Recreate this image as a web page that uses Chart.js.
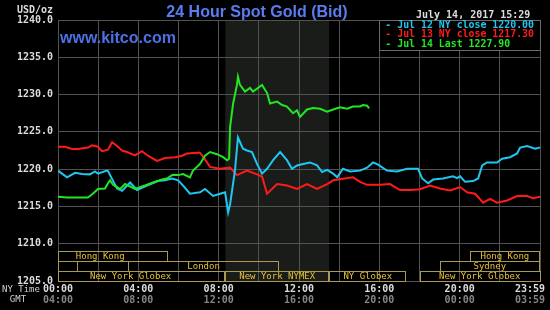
<!DOCTYPE html>
<html lang="en">
<head>
    <meta charset="UTF-8">
    <title>24 Hour Spot Gold (Bid)</title>
    <script src="https://cdn.jsdelivr.net/npm/chart.js"></script>
    <style>
        body { margin: 0; background: #000; }
        canvas { display: block; }
    </style>
</head>
<body>
    <canvas id="goldChart" width="550" height="310"></canvas>
    <script>
        // hours are NY time (0 = 00:00, 24 = 23:59)
        const jul12Hours = [0, 0.45, 0.85, 1.2, 1.59, 1.84, 1.99, 2.44, 2.49, 2.69, 2.94, 3.19, 3.59, 3.93, 4.43, 4.98, 5.33, 5.68, 5.98, 6.23, 6.57, 7.07, 7.32, 7.72, 8.07, 8.32, 8.47, 8.57, 8.81, 8.96, 9.21, 9.41, 9.66, 9.91, 10.16, 10.41, 10.71, 11.06, 11.4, 11.65, 11.9, 12.2, 12.55, 12.9, 13.15, 13.4, 13.7, 13.9, 14.19, 14.54, 15.04, 15.39, 15.69, 15.94, 16.38, 16.88, 17.38, 17.93, 18.13, 18.43, 18.68, 19.17, 19.67, 19.87, 20.02, 20.27, 20.67, 20.92, 21.12, 21.36, 21.86, 22.11, 22.51, 22.86, 23.01, 23.36, 23.76, 24];
        const jul12Prices = [1219.8, 1218.9, 1219.5, 1219.35, 1219.3, 1219.7, 1219.4, 1219.8, 1219.75, 1218.7, 1217.4, 1217.1, 1218.2, 1217.2, 1217.8, 1218.4, 1218.5, 1218.75, 1218.5, 1217.8, 1216.7, 1216.9, 1217.35, 1216.4, 1216.7, 1216.9, 1214.2, 1215.3, 1219.8, 1224.25, 1222.75, 1222.5, 1222.3, 1220.7, 1219.4, 1220.05, 1221.2, 1222.3, 1221.2, 1220.05, 1220.5, 1220.7, 1220.9, 1220.5, 1219.6, 1219.9, 1219.4, 1218.9, 1220.05, 1219.7, 1219.8, 1220.2, 1220.9, 1220.6, 1219.8, 1219.7, 1220.05, 1220.05, 1218.75, 1218.1, 1218.6, 1218.75, 1219.05, 1218.8, 1219.05, 1218.3, 1218.4, 1218.75, 1220.5, 1220.9, 1220.9, 1221.4, 1221.6, 1222.1, 1222.9, 1223.1, 1222.75, 1222.9];

        const jul13Hours = [0, 0.35, 0.7, 1.0, 1.49, 1.69, 1.99, 2.19, 2.49, 2.69, 2.94, 3.19, 3.44, 3.83, 4.18, 4.48, 4.93, 5.33, 5.83, 6.18, 6.42, 6.92, 7.07, 7.32, 7.57, 8.07, 8.57, 8.91, 9.41, 9.91, 10.16, 10.41, 10.91, 11.4, 11.9, 12.4, 12.9, 13.4, 13.7, 14.19, 14.69, 15.04, 15.39, 16.04, 16.53, 17.03, 17.53, 18.03, 18.53, 19.02, 19.52, 20.02, 20.37, 20.77, 21.17, 21.51, 21.86, 22.36, 22.86, 23.36, 23.66, 24];
        const jul13Prices = [1223.0, 1223.0, 1222.7, 1222.7, 1222.9, 1223.2, 1223.0, 1222.4, 1222.6, 1223.6, 1223.1, 1222.5, 1222.3, 1221.85, 1222.4, 1221.8, 1221.1, 1221.5, 1221.6, 1221.8, 1222.1, 1222.2, 1222.2, 1221.3, 1220.3, 1220.05, 1220.2, 1219.2, 1219.8, 1219.3, 1219.0, 1216.7, 1218.0, 1217.8, 1217.35, 1218.0, 1217.35, 1218.0, 1218.5, 1218.7, 1218.9, 1218.3, 1217.9, 1217.9, 1218.0, 1217.2, 1217.2, 1217.3, 1217.8, 1217.4, 1217.15, 1217.6, 1216.9, 1216.7, 1215.5, 1216.0, 1215.5, 1215.8, 1216.4, 1216.4, 1216.1, 1216.3];

        const jul14Hours = [0, 0.45, 1.49, 1.69, 1.99, 2.34, 2.49, 2.59, 2.74, 3.09, 3.34, 3.83, 4.33, 4.73, 5.18, 5.43, 5.68, 5.98, 6.23, 6.57, 6.72, 7.07, 7.32, 7.57, 7.92, 8.22, 8.42, 8.52, 8.57, 8.72, 8.91, 8.96, 9.06, 9.31, 9.56, 9.71, 10.16, 10.41, 10.56, 10.91, 11.16, 11.4, 11.7, 11.9, 12.05, 12.4, 12.7, 13.05, 13.4, 13.7, 14.04, 14.39, 14.69, 15.04, 15.19, 15.39, 15.49];
        const jul14Prices = [1216.3, 1216.2, 1216.2, 1216.6, 1217.35, 1217.4, 1218.1, 1218.5, 1217.9, 1217.35, 1218.0, 1217.35, 1217.8, 1218.2, 1218.6, 1218.75, 1219.2, 1219.2, 1219.35, 1218.9, 1219.8, 1220.7, 1221.8, 1222.3, 1222.0, 1221.6, 1221.2, 1221.4, 1225.7, 1228.8, 1231.3, 1232.4, 1231.3, 1230.4, 1230.9, 1230.4, 1231.3, 1230.2, 1228.8, 1229.05, 1228.6, 1228.4, 1227.5, 1227.9, 1227.0, 1228.0, 1228.2, 1228.1, 1227.7, 1228.0, 1228.3, 1228.1, 1228.4, 1228.4, 1228.6, 1228.5, 1228.15];

        const seriesLabels = ['Jul 12 NY close 1220.00', 'Jul 13 NY close 1217.30', 'Jul 14 Last 1227.90'];
        const seriesColors = ['#1ec6f0', '#ff1a1a', '#22e622'];

        const tickHours = [0, 4, 8, 12, 16, 20, 24];
        const nyTimeLabels = ['00:00', '04:00', '08:00', '12:00', '16:00', '20:00', '23:59'];
        const gmtLabels = ['04:00', '08:00', '12:00', '16:00', '20:00', '00:00', '03:59'];

        // trading sessions, row 0 is the bottom row
        const sessionNames = ['Hong Kong', '', 'London', 'New York Globex', 'New York NYMEX', 'NY Globex', 'New York Globex', 'Sydney', 'Hong Kong'];
        const sessionStart = [-1.3, -1, 3.5, -1.1, 8.33, 13.5, 18, 19, 20.5];
        const sessionEnd = [5.5, 1, 11, 8.33, 13.5, 17.35, 24, 24, 24];
        const sessionRow = [2, 1, 1, 0, 0, 0, 0, 1, 2];

        const nymexStart = 8.33;
        const nymexEnd = 13.5;

        const MONO = 'DejaVu Sans Mono';

        function toPoints(hours, prices) {
            return hours.map((h, i) => ({ x: h, y: prices[i] }));
        }

        const goldPlugin = {
            id: 'goldPlugin',
            beforeDraw(chart) {
                const { ctx, chartArea: a, scales: { x } } = chart;
                ctx.save();
                ctx.fillStyle = '#000';
                ctx.fillRect(0, 0, chart.width, chart.height);
                const x0 = x.getPixelForValue(nymexStart);
                const x1 = x.getPixelForValue(nymexEnd);
                ctx.fillStyle = '#1a1c1a';
                ctx.fillRect(x0, a.top, x1 - x0, a.bottom - a.top);
                ctx.restore();
            },
            afterDatasetsDraw(chart) {
                const { ctx, chartArea: a, scales: { x } } = chart;
                ctx.save();

                // session boxes
                ctx.lineWidth = 1;
                ctx.font = '9px "' + MONO + '"';
                ctx.textAlign = 'center';
                ctx.textBaseline = 'middle';
                for (let i = 0; i < sessionNames.length; i++) {
                    const ps = x.getPixelForValue(sessionStart[i]);
                    const pe = x.getPixelForValue(sessionEnd[i]);
                    const xs = Math.max(ps, a.left);
                    const xe = Math.min(pe, a.right);
                    const yb = Math.round(a.bottom) - sessionRow[i] * 10;
                    ctx.strokeStyle = '#a89a52';
                    ctx.strokeRect(Math.round(xs) + 0.5, yb - 10 + 0.5, Math.round(xe - xs) - 1, 10);
                    ctx.fillStyle = '#e6c238';
                    ctx.fillText(sessionNames[i], (ps + Math.min(pe, a.right)) / 2, yb - 4.5);
                }

                // legend box
                const lx = x.getPixelForValue(16);
                ctx.fillStyle = '#000';
                ctx.fillRect(lx, a.top, a.right - lx, 30);
                ctx.strokeStyle = '#6a6a6a';
                ctx.strokeRect(Math.round(lx) + 0.5, Math.round(a.top) + 0.5, Math.round(a.right - lx), 30);
                ctx.font = 'bold 9.9px "' + MONO + '"';
                ctx.textAlign = 'left';
                seriesLabels.forEach((label, i) => {
                    ctx.fillStyle = seriesColors[i];
                    ctx.fillText('- ' + label, lx + 6, a.top + 5.5 + i * 9.3);
                });
                ctx.restore();
            },
            afterDraw(chart) {
                const { ctx, chartArea: a, scales: { x } } = chart;
                ctx.save();
                ctx.textBaseline = 'middle';

                ctx.font = 'bold 10px "' + MONO + '"';
                ctx.fillStyle = '#dcdcdc';
                ctx.textAlign = 'right';
                ctx.fillText('USD/oz', 53, 10);
                ctx.textAlign = 'left';
                ctx.fillText('July 14, 2017 15:29', 416, 15);

                tickHours.forEach((h, i) => {
                    const last = i === tickHours.length - 1;
                    const px = last ? chart.width - 5 : x.getPixelForValue(h);
                    ctx.textAlign = last ? 'right' : 'center';
                    ctx.fillStyle = '#dcdcdc';
                    ctx.fillText(nyTimeLabels[i], px, 289.5);
                    ctx.fillStyle = '#858585';
                    ctx.fillText(gmtLabels[i], px, 300);
                });

                ctx.font = '9px "' + MONO + '"';
                ctx.fillStyle = '#d0d0d0';
                ctx.textAlign = 'left';
                ctx.fillText('NY Time', 2, 289.5);
                ctx.textAlign = 'center';
                ctx.fillText('GMT', 18, 300);

                ctx.textBaseline = 'alphabetic';
                ctx.font = 'bold 16px "Liberation Sans"';
                ctx.fillStyle = '#5a7cf0';
                ctx.fillText('24 Hour Spot Gold (Bid)', 257, 17);
                ctx.textAlign = 'left';
                ctx.fillStyle = '#4d70e6';
                ctx.fillText('www.kitco.com', 60, 42.5);
                ctx.restore();
            }
        };

        const ctx = document.getElementById('goldChart').getContext('2d');
        new Chart(ctx, {
            type: 'line',
            data: {
                datasets: [
                    { label: seriesLabels[0], data: toPoints(jul12Hours, jul12Prices), borderColor: seriesColors[0], order: 1 },
                    { label: seriesLabels[1], data: toPoints(jul13Hours, jul13Prices), borderColor: seriesColors[1], order: 2 },
                    { label: seriesLabels[2], data: toPoints(jul14Hours, jul14Prices), borderColor: seriesColors[2], order: 0 }
                ]
            },
            options: {
                responsive: false,
                animation: false,
                layout: { padding: { top: 20, right: 10, left: 0, bottom: 0 } },
                elements: {
                    line: { borderWidth: 2, tension: 0 },
                    point: { radius: 0 }
                },
                plugins: {
                    legend: { display: false },
                    tooltip: { enabled: false }
                },
                scales: {
                    x: {
                        type: 'linear',
                        min: 0,
                        max: 24,
                        ticks: { display: false, stepSize: 2 },
                        grid: { color: '#525252', drawTicks: false },
                        border: { display: false },
                        afterFit(scale) { scale.height = 29; }
                    },
                    y: {
                        min: 1205,
                        max: 1240,
                        ticks: {
                            stepSize: 5,
                            padding: 5,
                            color: '#dcdcdc',
                            font: { family: MONO, size: 10, weight: 'bold' },
                            callback: v => v.toFixed(1)
                        },
                        grid: { color: '#525252', drawTicks: false },
                        border: { display: false },
                        afterFit(scale) { scale.width = 58; }
                    }
                }
            },
            plugins: [goldPlugin]
        });
    </script>
</body>
</html>
